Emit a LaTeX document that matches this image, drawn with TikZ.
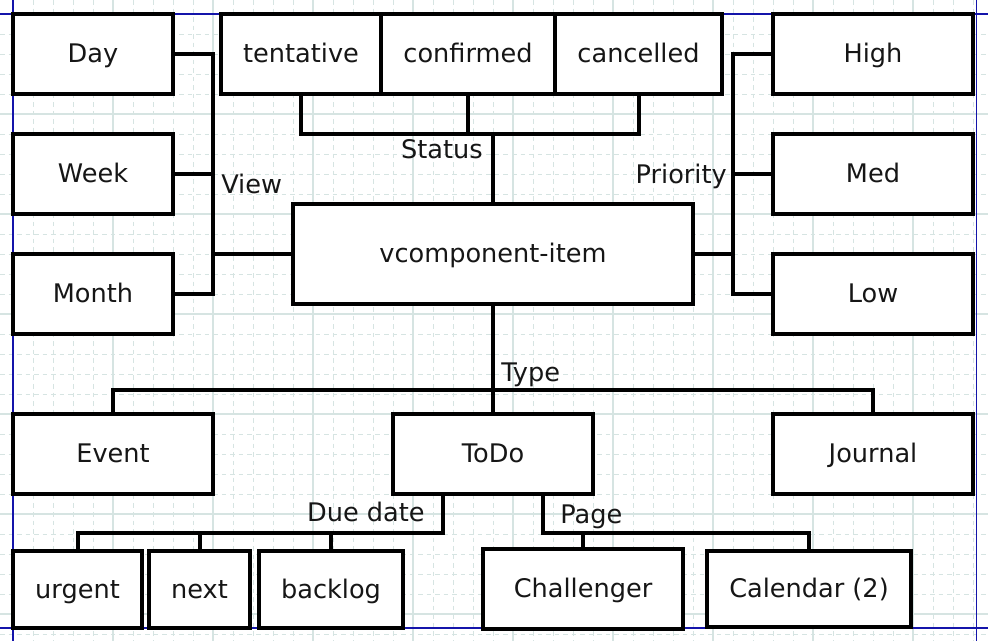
\documentclass[tikz,border=0pt]{standalone}
\usepackage{fontspec}
\setmainfont{DejaVu Sans}
\usetikzlibrary{positioning}

\definecolor{gridcol}{RGB}{214,228,226}
\definecolor{pagecol}{RGB}{20,20,170}
\definecolor{inkcol}{RGB}{22,22,22}

\tikzset{
  item/.style={draw=black, fill=white, line width=3pt, inner sep=0pt,
    text=inkcol, text height=17pt, text depth=3.8pt},
  wire/.style={line width=3pt, black},
  tag/.style={text=inkcol, inner sep=0pt},
  griddash/.style={gridcol, line width=0.6pt, dash pattern=on 3.4pt off 3pt},
  gridmain/.style={gridcol, line width=0.8pt},
  pageedge/.style={pagecol, line width=0.8pt}
}

\begin{document}
\begin{tikzpicture}[x=0.75pt, y=-0.75pt, font=\fontsize{19.2}{23}\selectfont]
            \useasboundingbox (0,0) rectangle (988,641);
            \fill[white] (0,0) rectangle (988,641);

            % Background grid
            \foreach \gx in {13,33,...,973} \draw[griddash] (\gx,0) -- (\gx,641);
            \foreach \gy in {14,34,...,634} \draw[griddash] (0,\gy) -- (988,\gy);
            \foreach \gx in {13,113,...,913} \draw[gridmain] (\gx,0) -- (\gx,641);
            \foreach \gy in {14,114,...,614} \draw[gridmain] (0,\gy) -- (988,\gy);

            % Page border
            \draw[pageedge] (0,14) -- (988,14);
            \draw[pageedge] (0,628) -- (988,628);
            \draw[pageedge] (13,0) -- (13,641);
            \draw[pageedge] (976.5,0) -- (976.5,641);

            % Boxes
            \node[item, minimum width=120pt, minimum height=60pt] (day) at (93,54) {Day};
            \node[item, minimum width=120pt, minimum height=60pt] (week) at (93,174) {Week};
            \node[item, minimum width=120pt, minimum height=60pt] (month) at (93,294) {Month};
            \node[item, minimum width=120pt, minimum height=60pt] (tentative) at (301,54) {tentative};
            \node[item, minimum width=130.5pt, minimum height=60pt] (confirmed) at (468,54) {confirmed};
            \node[item, minimum width=125.25pt, minimum height=60pt] (cancelled) at (638.5,54) {cancelled};
            \node[item, minimum width=150pt, minimum height=60pt] (high) at (873,54) {High};
            \node[item, minimum width=150pt, minimum height=60pt] (med) at (873,174) {Med};
            \node[item, minimum width=150pt, minimum height=60pt] (low) at (873,294) {Low};
            \node[item, minimum width=300pt, minimum height=75pt] (vitem) at (493,254) {vcomponent-item};
            \node[item, minimum width=150pt, minimum height=60pt] (event) at (113,454) {Event};
            \node[item, minimum width=150pt, minimum height=60pt] (todo) at (493,454) {ToDo};
            \node[item, minimum width=150pt, minimum height=60pt] (journal) at (873,454) {Journal};
            \node[item, minimum width=96.75pt, minimum height=57.75pt] (urgent) at (77.5,589.5) {urgent};
            \node[item, minimum width=75.75pt, minimum height=57.75pt] (next) at (199.5,589.5) {next};
            \node[item, minimum width=108pt, minimum height=57.75pt] (backlog) at (331,589.5) {backlog};
            \node[item, minimum width=150pt, minimum height=60pt] (challenger) at (583,589) {Challenger};
            \node[item, minimum width=153pt, minimum height=57pt] (calendar) at (809,589) {Calendar (2)};

            % Junctions
            \coordinate (viewbus) at (213,254);
            \coordinate (statusbus) at (493,134);
            \coordinate (prioritybus) at (733,254);
            \coordinate (typebus) at (493,390);
            \coordinate (duebus) at (443,533);
            \coordinate (pagebus) at (543,533);

            % View
            \draw[wire] (day.east) -| (viewbus) -- (vitem.west);
            \draw[wire] (month.east) -| (viewbus);
            \draw[wire] (week.east) -- (week.east -| viewbus);

            % Status
            \draw[wire] (tentative.south) |- (statusbus) -- (vitem.north);
            \draw[wire] (cancelled.south) |- (statusbus);
            \draw[wire] (confirmed.south) -- (confirmed.south |- statusbus);

            % Priority
            \draw[wire] (vitem.east) -- (prioritybus);
            \draw[wire] (high.west) -| (prioritybus);
            \draw[wire] (low.west) -| (prioritybus);
            \draw[wire] (med.west) -- (med.west -| prioritybus);

            % Type
            \draw[wire] (vitem.south) -- (typebus);
            \draw[wire] (event.north) |- (typebus) -| (journal.north);
            \draw[wire] (todo.north) -- (typebus);

            % Due date
            \draw[wire] (duebus |- todo.south) -- (duebus) -| (urgent.north);
            \draw[wire] (next.north) -- (next.north |- duebus);
            \draw[wire] (backlog.north) -- (backlog.north |- duebus);

            % Page
            \draw[wire] (pagebus |- todo.south) -- (pagebus) -| (calendar.north);
            \draw[wire] (challenger.north) -- (challenger.north |- pagebus);

            % Labels
            \node[tag, anchor=base west] (viewtag) at (221,194) {View};
            \node[tag, anchor=base east] (statustag) at (483,159) {Status};
            \node[tag, anchor=base east] (prioritytag) at (727,184) {Priority};
            \node[tag, anchor=base west] (typetag) at (501,382) {Type};
            \node[tag, anchor=base east] (duetag) at (425,521) {Due date};
            \node[tag, anchor=base west] (pagetag) at (560,523) {Page};
        \end{tikzpicture}
\end{document}
